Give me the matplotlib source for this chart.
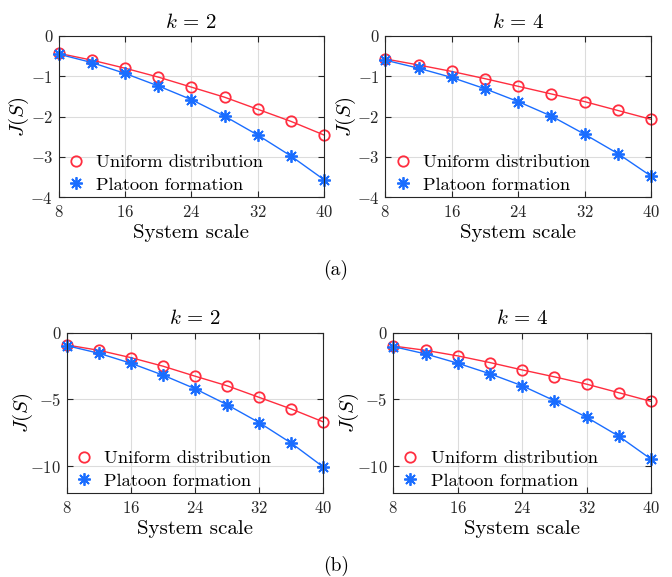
import matplotlib
matplotlib.use("Agg")
import matplotlib.pyplot as plt
from matplotlib.lines import Line2D

plt.rcParams['font.family'] = 'cmr10'
plt.rcParams['mathtext.fontset'] = 'cm'
plt.rcParams['axes.unicode_minus'] = False
plt.rcParams['axes.formatter.use_mathtext'] = True

# System scale
scale = [8, 12, 16, 20, 24, 28, 32, 36, 40]

# (a) k = 2
a2_uniform = [-0.43, -0.60, -0.80, -1.02, -1.27, -1.52, -1.82, -2.12, -2.46]
a2_platoon = [-0.45, -0.66, -0.93, -1.24, -1.58, -1.99, -2.46, -2.98, -3.57]
# (a) k = 4
a4_uniform = [-0.57, -0.72, -0.88, -1.06, -1.25, -1.44, -1.63, -1.85, -2.07]
a4_platoon = [-0.60, -0.80, -1.03, -1.31, -1.63, -1.99, -2.44, -2.92, -3.48]
# (b) k = 2
b2_uniform = [-0.92, -1.32, -1.87, -2.51, -3.26, -3.98, -4.85, -5.72, -6.69]
b2_platoon = [-0.97, -1.54, -2.29, -3.18, -4.20, -5.40, -6.74, -8.28, -10.07]
# (b) k = 4
b4_uniform = [-1.00, -1.32, -1.74, -2.24, -2.79, -3.31, -3.86, -4.50, -5.15]
b4_platoon = [-1.04, -1.59, -2.29, -3.08, -3.98, -5.10, -6.34, -7.76, -9.48]

red = '#ff2d3f'
blue = '#1a6dff'
W, H = 672, 577
star = (8, 2, 0)

fig = plt.figure(figsize=(W / 100, H / 100), dpi=100)


def panel(px_left, px_right, px_top, px_bottom, uni, pla, title, ylim, yticks, ylab_x):
    w = px_right - px_left
    h = px_bottom - px_top
    ax = fig.add_axes([px_left / W, 1 - px_bottom / H, w / W, h / H])
    ax.plot(scale, uni, '-o', color=red, lw=1, ms=7.5, mfc='none', mew=1.3,
            clip_on=False)
    ax.plot(scale, pla, '-', color=blue, lw=1, marker=star, ms=9, mew=1.3,
            clip_on=False)
    ax.set_xlim(8, 40)
    ax.set_ylim(*ylim)
    ax.set_xticks([8, 16, 24, 32, 40])
    ax.set_yticks(yticks)
    ax.grid(True, color='#dcdcdc', lw=0.8)
    ax.set_axisbelow(True)
    ax.tick_params(direction='in', top=True, right=True, labelsize=12,
                   colors='#262626', length=4)
    ax.tick_params(axis='y', pad=4)
    ax.tick_params(axis='x', pad=5)
    for s in ax.spines.values():
        s.set_color('#262626')
        s.set_linewidth(0.8)
    ax.set_title(title, fontsize=15, pad=6)
    ax.set_xlabel('System scale', fontsize=15, va='center')
    ax.xaxis.set_label_coords(0.5, -36.5 / h)
    ax.set_ylabel('$J(S)$', fontsize=15, va='center')
    ax.yaxis.set_label_coords((ylab_x - px_left) / w, 0.5)
    handles = [Line2D([], [], ls='none', marker='o', color=red, ms=7.5,
                      mfc='none', mew=1.3),
               Line2D([], [], ls='none', marker=star, color=blue, ms=9, mew=1.3)]
    ax.legend(handles, ['Uniform distribution', 'Platoon formation'],
              loc='center left', bbox_to_anchor=(0.03, 0.146), frameon=False,
              fontsize=13.3, handlelength=1.0, handletextpad=0.6,
              borderpad=0, borderaxespad=0, labelspacing=0.35)
    return ax


panel(58.7, 324, 36, 197, a2_uniform, a2_platoon, '$k\\,=\\,2$',
      (-4, 0), [-4, -3, -2, -1, 0], 19)
panel(385.3, 651, 36, 197, a4_uniform, a4_platoon, '$k\\,=\\,4$',
      (-4, 0), [-4, -3, -2, -1, 0], 346)
panel(66.7, 323.3, 332.7, 492.7, b2_uniform, b2_platoon, '$k\\,=\\,2$',
      (-12, 0), [-10, -5, 0], 23)
panel(393.3, 651, 332.7, 492.7, b4_uniform, b4_platoon, '$k\\,=\\,4$',
      (-12, 0), [-10, -5, 0], 349)

fig.text(336 / W, 1 - 270 / H, '(a)', ha='center', va='center', fontsize=14)
fig.text(336 / W, 1 - 566 / H, '(b)', ha='center', va='center', fontsize=14)

fig.savefig('out.png', dpi=100)
